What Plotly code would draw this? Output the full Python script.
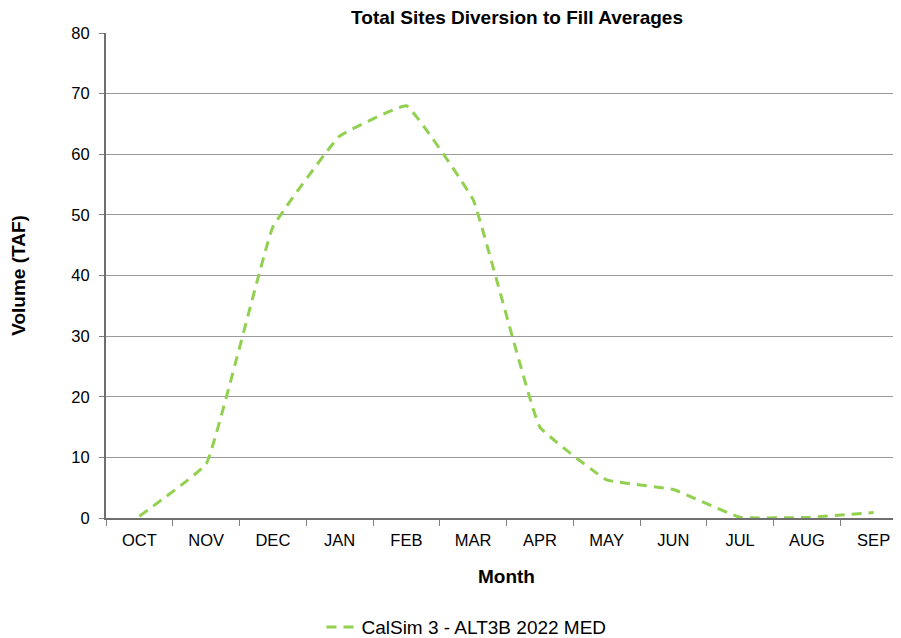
import plotly.graph_objects as go

months = ["OCT", "NOV", "DEC", "JAN", "FEB", "MAR", "APR", "MAY", "JUN", "JUL", "AUG", "SEP"]
volume = [0.3, 8.9, 48.0, 63.0, 68.0, 52.5, 15.0, 6.3, 4.7, 0.1, 0.1, 0.9]
series_name = "CalSim 3 - ALT3B 2022 MED"
y_ticks = [0, 10, 20, 30, 40, 50, 60, 70, 80]

fig = go.Figure()
fig.add_trace(go.Scatter(
    x=months, y=volume, mode="lines", name=series_name,
    line=dict(color="#92D050", width=3, dash="10px,7px", shape="spline", smoothing=0.25),
))

font = "Liberation Sans, Arial, sans-serif"
fig.update_layout(
    width=901, height=638,
    margin=dict(l=98, r=2, t=25, b=128, autoexpand=False),
    plot_bgcolor="white", paper_bgcolor="white",
    font=dict(family=font, color="black", size=16),
    title=dict(text="<b>Total Sites Diversion to Fill Averages</b>", x=0.565, xanchor="center",
               y=0.986, yanchor="middle", font=dict(size=19, family=font)),
    showlegend=True,
    legend=dict(orientation="h", x=0.45, xanchor="center", y=-0.225, yanchor="middle",
                font=dict(size=19, family=font), itemwidth=30),
    xaxis=dict(
        title=dict(text="<b>Month</b>", font=dict(size=19), standoff=22),
        range=[-0.5, 11.5],
        showline=True, linecolor="#6f6f6f", linewidth=2,
        ticks="outside", ticklen=6, tickcolor="#7f7f7f", tickson="boundaries",
        ticklabelstandoff=6,
        showgrid=False, tickfont=dict(size=16.5),
    ),
    yaxis=dict(
        title=dict(text="<b>Volume (TAF)</b>", font=dict(size=19), standoff=44),
        range=[0, 80], tickvals=y_ticks,
        showline=True, linecolor="#6f6f6f", linewidth=2,
        ticks="outside", ticklen=5, tickcolor="#7f7f7f",
        ticklabelstandoff=6,
        showgrid=True, gridcolor="#9a9a9a", gridwidth=1,
        tickfont=dict(size=16.5), zeroline=False,
    ),
)

fig.write_html("out.html")
